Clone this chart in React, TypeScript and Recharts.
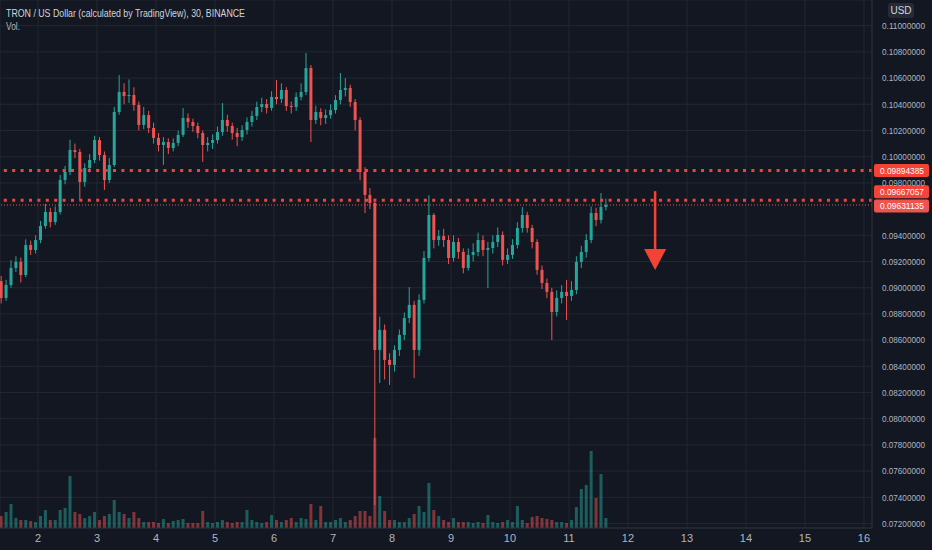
import React from "react";
import {
  ComposedChart,
  Bar,
  Cell,
  XAxis,
  YAxis,
  CartesianGrid,
  ReferenceLine,
  ReferenceDot,
} from "recharts";

// 2-hour candles, TRX/USD
const FIRST_T = 1.375; // day of month of the first candle
const STEP = 1 / 12;
const FIRST_OPEN = 0.0905;

const CLOSE = [
  0.08922, 0.09021, 0.09151, 0.09197, 0.09097, 0.09326, 0.09288, 0.09364, 0.09471, 0.09578,
  0.09502, 0.09578, 0.09822, 0.09883, 0.10051, 0.10036, 0.09807, 0.09914, 0.09975, 0.10127,
  0.10013, 0.09822, 0.09937, 0.10341, 0.10494, 0.10463, 0.10471, 0.10394, 0.10242, 0.10318,
  0.10219, 0.10143, 0.10089, 0.10112, 0.10066, 0.10105, 0.10166, 0.10295, 0.10265, 0.10234,
  0.10181, 0.10089, 0.10105, 0.10127, 0.10188, 0.1028, 0.10234, 0.10181, 0.1015, 0.10204,
  0.10265, 0.10311, 0.10379, 0.10402, 0.10372, 0.10456, 0.1044, 0.10509, 0.10387, 0.10379,
  0.10456, 0.10494, 0.10677, 0.1028, 0.10341, 0.10295, 0.10318, 0.10356, 0.10433, 0.10509,
  0.10524, 0.10417, 0.1028, 0.09883, 0.09708, 0.09647, 0.08525, 0.08678, 0.08449, 0.08411,
  0.08525, 0.0864, 0.08769, 0.08869, 0.08525, 0.08907, 0.09227, 0.09555, 0.09364, 0.09394,
  0.09364, 0.09227, 0.09349, 0.09273, 0.09151, 0.0925, 0.09273, 0.09364, 0.09288, 0.09303,
  0.09349, 0.09403, 0.09212, 0.0925, 0.09326, 0.09456, 0.09555, 0.09456, 0.09349, 0.09136,
  0.09036, 0.08968, 0.08815, 0.08922, 0.08968, 0.08937, 0.08983, 0.09197, 0.09273, 0.09364,
  0.0957, 0.09517, 0.09616, 0.09631,
];

const HIGH = [
  0.0909, 0.0906, 0.0921, 0.0924, 0.0923, 0.0937, 0.0936, 0.094, 0.0951, 0.0964,
  0.0961, 0.0962, 0.0986, 0.0993, 0.1013, 0.101, 0.1006, 0.0995, 0.1002, 0.1016,
  0.1015, 0.1004, 0.0999, 0.1038, 0.10623, 0.1056, 0.1059, 0.1053, 0.1042, 0.1038,
  0.1035, 0.1026, 0.1018, 0.1015, 0.1014, 0.1014, 0.102, 0.10372, 0.1033, 0.1029,
  0.1026, 0.102, 0.1015, 0.1017, 0.1023, 0.10409, 0.1032, 0.1026, 0.1022, 0.1024,
  0.103, 0.1035, 0.1042, 0.1045, 0.1044, 0.105, 0.10585, 0.1056, 0.1053, 0.1042,
  0.1049, 0.1056, 0.10791, 0.107, 0.1039, 0.1037, 0.1036, 0.104, 0.1047, 0.10639,
  0.106, 0.1055, 0.1044, 0.103, 0.0992, 0.0976, 0.0968, 0.0878, 0.0872, 0.085,
  0.0856, 0.0868, 0.0881, 0.09005, 0.089, 0.0895, 0.0928, 0.09706, 0.0957, 0.0944,
  0.0945, 0.094, 0.094, 0.0938, 0.093, 0.093, 0.0934, 0.0942, 0.094, 0.0935,
  0.094, 0.0946, 0.0943, 0.093, 0.0937, 0.095, 0.09616, 0.0958, 0.0948, 0.0937,
  0.0917, 0.0907, 0.09, 0.0898, 0.0902, 0.0906, 0.0905, 0.0924, 0.0932, 0.0941,
  0.0962, 0.0961, 0.09723, 0.0968,
];

const LOW = [
  0.0888, 0.089, 0.09, 0.0912, 0.0904, 0.0908, 0.0925, 0.0926, 0.0934, 0.0945,
  0.0946, 0.0948, 0.0956, 0.0979, 0.0986, 0.0999, 0.09669, 0.0977, 0.0988, 0.0995,
  0.0997, 0.09746, 0.098, 0.0992, 0.1032, 0.104, 0.1041, 0.1035, 0.102, 0.1021,
  0.1018, 0.101, 0.1004, 0.09937, 0.1002, 0.1004, 0.1008, 0.1015, 0.1022, 0.1019,
  0.1014, 0.0996, 0.1004, 0.1006, 0.101, 0.1016, 0.1019, 0.1013, 0.1008, 0.1012,
  0.1017, 0.1023, 0.1028, 0.1034, 0.1033, 0.1035, 0.104, 0.1041, 0.1035, 0.1033,
  0.1035, 0.1043, 0.1047, 0.10112, 0.1025, 0.1024, 0.1025, 0.1029, 0.1033, 0.104,
  0.1046, 0.1038, 0.102, 0.0982, 0.0957, 0.096, 0.0734, 0.08272, 0.083, 0.08258,
  0.0836, 0.0848, 0.086, 0.0873, 0.08311, 0.0848, 0.0888, 0.092, 0.093, 0.0932,
  0.0931, 0.0918, 0.092, 0.0922, 0.0911, 0.0913, 0.092, 0.0924, 0.0924, 0.08998,
  0.0926, 0.0931, 0.0917, 0.0918, 0.0922, 0.093, 0.0942, 0.0942, 0.093, 0.091,
  0.0899, 0.0892, 0.08601, 0.0878, 0.0888, 0.08754, 0.089, 0.0895, 0.0915, 0.0923,
  0.0934, 0.0947, 0.0949, 0.0959,
];

// volume, millions TRX
const VOLUME = [
  1.2, 1.6, 2.4, 1.0, 0.8, 0.8, 0.7, 0.6, 1.2, 1.8,
  0.8, 0.8, 1.8, 2.0, 5.2, 1.6, 1.4, 1.0, 1.2, 1.6,
  0.8, 1.2, 1.4, 2.8, 1.6, 1.4, 1.0, 1.6, 1.0, 0.6,
  0.6, 0.6, 0.5, 0.9, 0.5, 0.7, 0.8, 0.9, 0.5, 0.5,
  0.5, 1.7, 0.6, 0.5, 0.6, 0.8, 0.6, 0.5, 0.6, 0.6,
  1.8, 0.8, 0.6, 0.5, 0.6, 1.3, 0.8, 0.6, 0.8, 1.0,
  0.6, 1.0, 0.9, 2.4, 0.8, 2.2, 0.6, 0.6, 0.8, 1.0,
  0.6, 0.8, 1.2, 1.7, 1.7, 1.2, 9.0, 3.2, 1.7, 0.8,
  0.8, 0.6, 0.6, 1.0, 1.4, 2.2, 1.6, 4.5, 1.8, 1.2,
  0.8, 0.6, 1.0, 0.6, 0.6, 0.6, 0.5, 0.6, 0.5, 1.3,
  0.6, 0.5, 0.6, 0.8, 0.6, 2.2, 0.8, 0.5, 1.1, 1.2,
  1.0, 0.9, 0.8, 0.6, 0.6, 0.5, 0.8, 2.1, 3.9, 4.3,
  7.7, 3.0, 5.4, 1.0,
];

const DAY_TICKS = [2, 3, 4, 5, 6, 7, 8, 9, 10, 11, 12, 13, 14, 15, 16];
// 0.096 sits under the price tags, so it is not labelled
const PRICE_TICKS = [
  0.072, 0.074, 0.076, 0.078, 0.08, 0.082, 0.084, 0.086, 0.088, 0.09,
  0.092, 0.094, 0.098, 0.1, 0.102, 0.104, 0.106, 0.108, 0.11,
];

const RESISTANCE = 0.09894385;
const SUPPORT = 0.09667057;
const LAST_PRICE = 0.09631135;

// arrow annotation: day, top price, tip price
const ARROW_T = 12.46;
const ARROW_TOP = 0.09737;
const ARROW_TIP = 0.09135;
const ARROW_NECK = 0.0929;

const X_MIN = 1.356;
const X_MAX = 16.136;
const P_MIN = 0.07166;
const P_MAX = 0.11196;

const UP = "#26a69a";
const DOWN = "#ef5350";
const TAG_RED = "#f44336";
const FONT = "'Liberation Sans', Arial, sans-serif";

const data = CLOSE.map((close, i) => {
  const open = i === 0 ? FIRST_OPEN : CLOSE[i - 1];
  return {
    t: FIRST_T + i * STEP,
    open,
    close,
    high: HIGH[i],
    low: LOW[i],
    volume: VOLUME[i],
  };
});

function Candle(props: any) {
  const { x, y, width, height, payload } = props;
  if (!payload) return null;
  const { open, close, high, low } = payload;
  const color = close >= open ? UP : DOWN;
  const top = Math.min(y, y + height);
  const h = Math.abs(height);
  const k = h / (high - low || 1);
  const yOpen = top + (high - open) * k;
  const yClose = top + (high - close) * k;
  const cx = x + width / 2;
  return (
    <g>
      <line x1={cx} x2={cx} y1={top} y2={top + h} stroke={color} strokeWidth={1} />
      <rect
        x={x}
        y={Math.min(yOpen, yClose)}
        width={width}
        height={Math.max(1, Math.abs(yOpen - yClose))}
        fill={color}
      />
    </g>
  );
}

// TradingView's narrow price labels
function PriceTick(props: any) {
  const { x, y, payload } = props;
  return (
    <text
      x={x}
      y={y}
      dy="0.35em"
      fill="#b2b5be"
      fontSize={9.3}
      fontFamily={FONT}
      textLength={43}
      lengthAdjust="spacingAndGlyphs"
    >
      {Number(payload.value).toFixed(8)}
    </text>
  );
}

function PriceTag(props: any) {
  const { viewBox, text, fill, shift = 0 } = props;
  if (!viewBox) return null;
  const x = viewBox.x + viewBox.width + 2;
  const y = viewBox.y + shift;
  return (
    <g>
      <rect x={x} y={y - 6.5} width={55} height={13} rx={2} fill={fill} />
      <text
        x={x + 6}
        y={y}
        dy="0.35em"
        fill="#ffffff"
        fontSize={9.3}
        fontFamily={FONT}
        textLength={44}
        lengthAdjust="spacingAndGlyphs"
      >
        {text}
      </text>
    </g>
  );
}

function ArrowHead(props: any) {
  const { cx, cy } = props;
  return (
    <polygon
      points={`${cx},${cy} ${cx - 11},${cy - 21} ${cx + 11},${cy - 21}`}
      fill={TAG_RED}
    />
  );
}

export default function App() {
  return (
    <div
      style={{
        position: "absolute",
        left: 0,
        top: 0,
        width: 932,
        height: 550,
        background: "#131722",
        fontFamily: FONT,
      }}
    >
      <ComposedChart
        width={932}
        height={550}
        data={data}
        margin={{ top: 0, right: 0, bottom: 0, left: 0 }}
      >
        <CartesianGrid stroke="#232733" />
        <XAxis
          dataKey="t"
          type="number"
          domain={[X_MIN, X_MAX]}
          ticks={DAY_TICKS}
          allowDataOverflow
          height={22}
          tickSize={0}
          tickMargin={6}
          axisLine={{ stroke: "#2a2e39" }}
          tick={{ fill: "#b2b5be", fontSize: 11, fontFamily: FONT }}
        />
        <XAxis
          xAxisId="vol"
          dataKey="t"
          type="number"
          domain={[X_MIN, X_MAX]}
          allowDataOverflow
          hide
        />
        <YAxis
          orientation="right"
          domain={[P_MIN, P_MAX]}
          ticks={PRICE_TICKS}
          allowDataOverflow
          width={60}
          tickSize={0}
          tickMargin={10}
          axisLine={{ stroke: "#2a2e39" }}
          tick={<PriceTick />}
        />
        <YAxis yAxisId="vol" hide domain={[0, 52.8]} allowDataOverflow />

        <Bar
          xAxisId="vol"
          yAxisId="vol"
          dataKey="volume"
          barSize={3}
          isAnimationActive={false}
        >
          {data.map((d, i) => (
            <Cell key={i} fill={d.close >= d.open ? UP : DOWN} fillOpacity={0.5} />
          ))}
        </Bar>
        <Bar
          dataKey={(d: any) => [d.low, d.high]}
          barSize={3}
          shape={<Candle />}
          isAnimationActive={false}
        />

        <ReferenceLine
          y={RESISTANCE}
          stroke={TAG_RED}
          strokeWidth={3}
          strokeDasharray="3 5.4"
          label={<PriceTag text={RESISTANCE.toFixed(8)} fill={TAG_RED} />}
        />
        <ReferenceLine
          y={LAST_PRICE}
          stroke={DOWN}
          strokeWidth={1}
          strokeDasharray="1 2"
          label={<PriceTag text={LAST_PRICE.toFixed(8)} fill={DOWN} shift={1} />}
        />
        <ReferenceLine
          y={SUPPORT}
          stroke={TAG_RED}
          strokeWidth={3}
          strokeDasharray="3 5.4"
          label={<PriceTag text={SUPPORT.toFixed(8)} fill={TAG_RED} shift={-8.5} />}
        />

        <ReferenceLine
          segment={[
            { x: ARROW_T, y: ARROW_TOP },
            { x: ARROW_T, y: ARROW_NECK },
          ]}
          stroke={TAG_RED}
          strokeWidth={2.5}
        />
        <ReferenceDot x={ARROW_T} y={ARROW_TIP} shape={<ArrowHead />} />
      </ComposedChart>

      <svg
        width={400}
        height={40}
        style={{ position: "absolute", left: 0, top: 0, pointerEvents: "none" }}
      >
        <text
          x={6}
          y={17}
          fill="#d1d4dc"
          fontSize={11.5}
          fontFamily={FONT}
          textLength={239}
          lengthAdjust="spacingAndGlyphs"
        >
          TRON / US Dollar (calculated by TradingView), 30, BINANCE
        </text>
        <text
          x={6}
          y={30}
          fill="#b2b5be"
          fontSize={11}
          fontFamily={FONT}
          textLength={14}
          lengthAdjust="spacingAndGlyphs"
        >
          Vol.
        </text>
      </svg>

      <div
        style={{
          position: "absolute",
          left: 888,
          top: 3,
          width: 26,
          height: 15,
          borderRadius: 3,
          background: "#262a36",
          color: "#d1d4dc",
          fontSize: 10,
          lineHeight: "15px",
          textAlign: "center",
        }}
      >
        USD
      </div>
    </div>
  );
}
